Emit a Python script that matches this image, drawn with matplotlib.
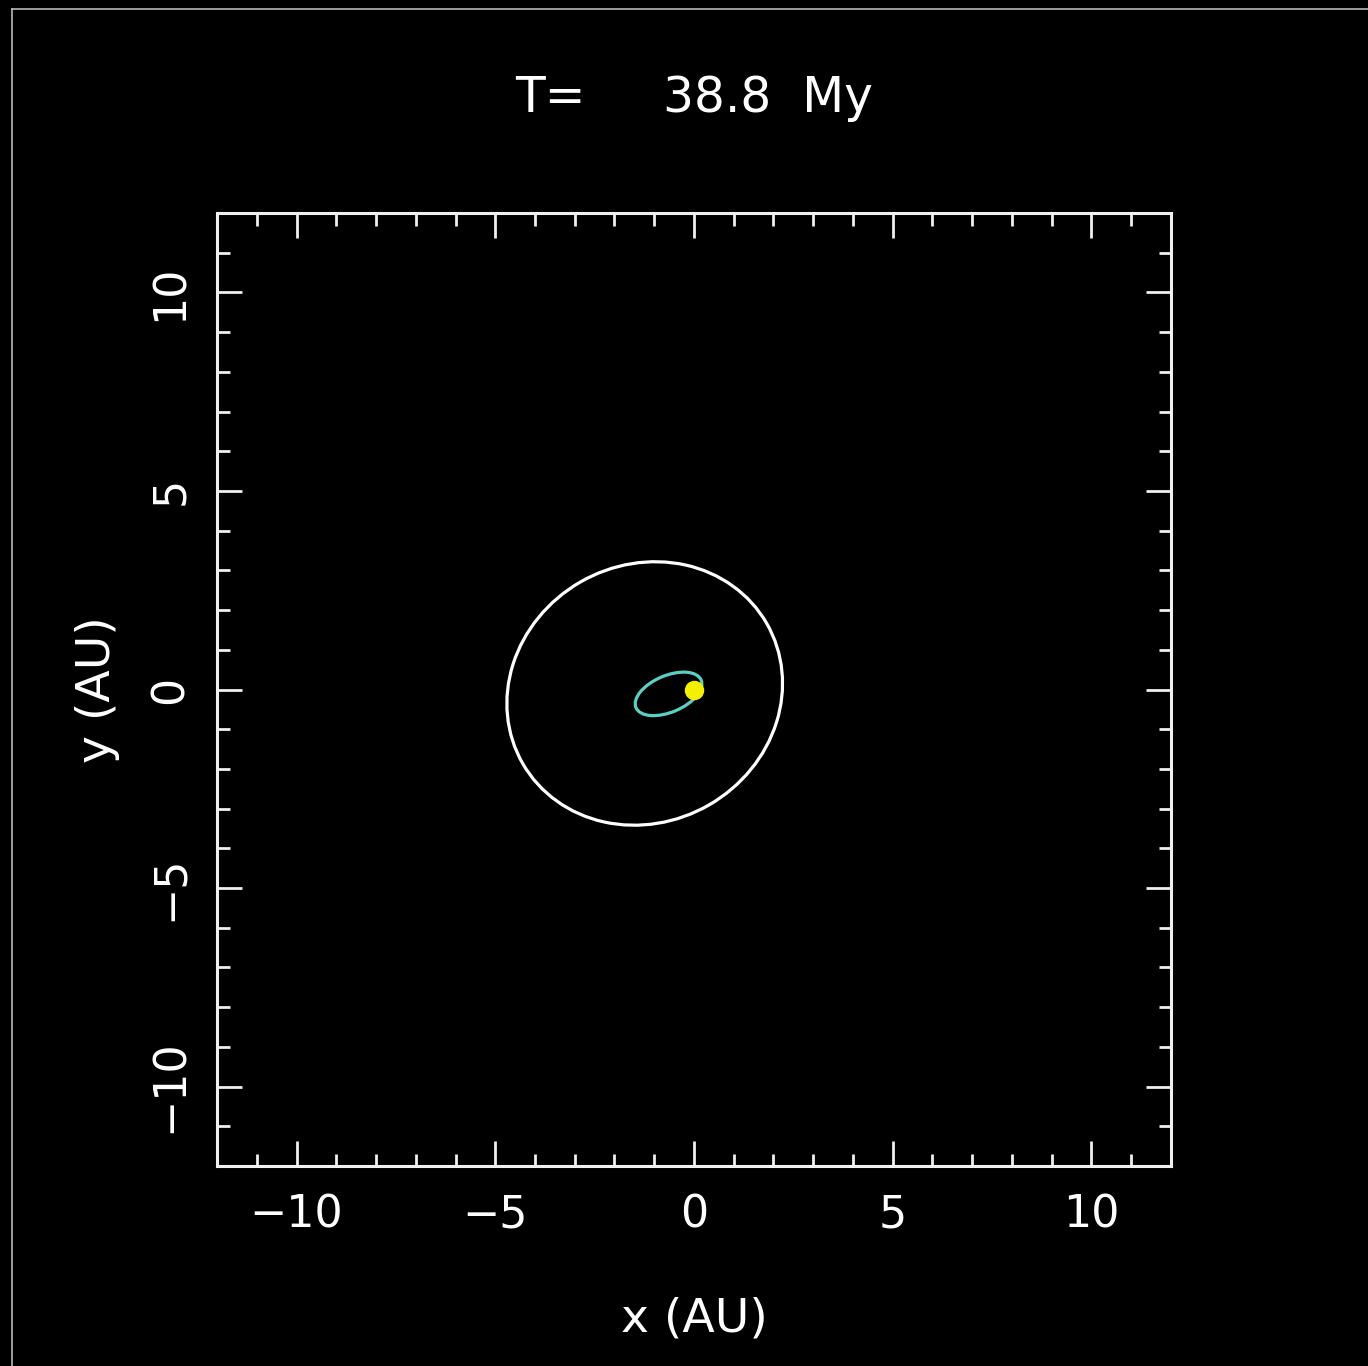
import matplotlib
matplotlib.use("Agg")
import matplotlib.pyplot as plt
from matplotlib.patches import Ellipse
from matplotlib.lines import Line2D
from matplotlib.ticker import MultipleLocator

# snapshot time
time_myr = 38.8

# orbits (in AU)
orbit_names = ["outer", "inner"]
orbit_cx = [-1.24, -0.64]
orbit_cy = [-0.10, -0.11]
orbit_a = [3.54, 0.89]
orbit_b = [3.24, 0.46]
orbit_tilt = [30, 23]
orbit_colors = ["#ffffff", "#5ccfc4"]

# central star
star_x = [0.0]
star_y = [0.0]

ax_lim = [-12, 12]

W, H = 1368, 1366
fig = plt.figure(figsize=(W / 100, H / 100), dpi=100, facecolor="black")
ax = fig.add_axes([217 / W, 200 / H, 954 / W, 953 / H], facecolor="black")

for cx, cy, a, b, ang, col in zip(orbit_cx, orbit_cy, orbit_a, orbit_b,
                                 orbit_tilt, orbit_colors):
    ax.add_patch(Ellipse((cx, cy), 2 * a, 2 * b, angle=ang, fill=False,
                         edgecolor=col, linewidth=2.3))

ax.plot(star_x, star_y, "o", color="#f5ef00", markersize=13, zorder=5)

ax.set_xlim(ax_lim)
ax.set_ylim(ax_lim)

for s in ax.spines.values():
    s.set_color("#f0f0f0")
    s.set_linewidth(2.2)

ax.xaxis.set_major_locator(MultipleLocator(5))
ax.xaxis.set_minor_locator(MultipleLocator(1))
ax.yaxis.set_major_locator(MultipleLocator(5))
ax.yaxis.set_minor_locator(MultipleLocator(1))

ax.tick_params(which="both", direction="in", top=True, right=True,
               colors="#f0f0f0", width=2)
ax.tick_params(which="major", length=18)
ax.tick_params(which="minor", length=9)
ax.tick_params(axis="x", labelsize=32, pad=20, labelcolor="white")
ax.tick_params(axis="y", labelsize=32, pad=18, labelcolor="white",
               labelrotation=90)
for lab in ax.get_yticklabels():
    lab.set_verticalalignment("center")

ax.set_xlabel("x (AU)", fontsize=34, color="white", va="baseline")
ax.xaxis.set_label_coords(0.5, (1166 - 1332) / 953)
ax.set_ylabel("y (AU)", fontsize=34, color="white", va="baseline")
ax.yaxis.set_label_coords((110 - 217) / 954, 0.5)

fig.text(694 / W, 1 - 112 / H, f"T=     {time_myr}  My", fontsize=35,
         color="white", ha="center", va="baseline")

# frame border of the video still
fig.add_artist(Line2D([12 / W, 1], [1 - 9 / H, 1 - 9 / H],
                      transform=fig.transFigure, color="#b8b8b8", lw=1.2))
fig.add_artist(Line2D([12 / W, 12 / W], [0, 1 - 9 / H],
                      transform=fig.transFigure, color="#b8b8b8", lw=1.2))

fig.savefig("out.png", dpi=100, facecolor="black")
plt.close(fig)
